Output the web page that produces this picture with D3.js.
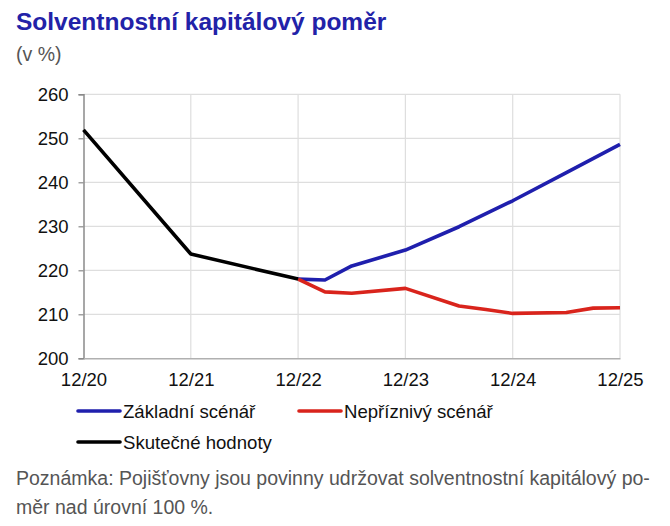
<!DOCTYPE html>
<html><head><meta charset="utf-8">
<script src="https://cdn.jsdelivr.net/npm/d3@7"></script>
<style>body{margin:0;background:#fff;} svg{display:block;font-family:"Liberation Sans",Arial,sans-serif;}</style>
</head><body>
<svg id="c" width="670" height="526"></svg>
<script>
// quarter index: 0 = 12/20, 4 = 12/21, ...
const xTickLabels = ["12/20","12/21","12/22","12/23","12/24","12/25"];
const yTicks = [200,210,220,230,240,250,260];
const actualQ = [0,4,8];
const actualV = [251.9,223.7,218.0];
const baseQ = [8,9,10,12,14,16,18,20];
const baseV = [218.0,217.8,221.0,224.6,229.9,235.8,242.2,248.6];
const advQ = [8,9,10,12,14,15,16,18,19,20];
const advV = [218.0,215.1,214.8,215.9,211.9,211.1,210.2,210.4,211.4,211.5];
const legendLabels = ["Základní scénář","Nepříznivý scénář","Skutečné hodnoty"];
const colors = ["#1f1fad","#d9241c","#000000"];

const svg = d3.select("#c");
const x = d3.scaleLinear().domain([0,20]).range([83.5,620]);
const y = d3.scaleLinear().domain([200,260]).range([358.3,94.3]);

svg.append("text").attr("x",16).attr("y",29.5).attr("fill","#2222a8")
  .attr("font-size",24.5).attr("font-weight","bold").text("Solventnostní kapitálový poměr");
svg.append("text").attr("x",16).attr("y",61).attr("fill","#555")
  .attr("font-size",19.5).text("(v %)");

// grid
const g = svg.append("g");
g.selectAll("line.h").data(yTicks.slice(1)).join("line")
  .attr("x1",x(0)).attr("x2",x(20)).attr("y1",d=>y(d)).attr("y2",d=>y(d))
  .attr("stroke","#dedede").attr("stroke-width",1.2);
g.selectAll("line.v").data(xTickLabels.slice(1)).join("line")
  .attr("x1",(d,i)=>x((i+1)*4)).attr("x2",(d,i)=>x((i+1)*4)).attr("y1",y(260)).attr("y2",y(200))
  .attr("stroke","#dedede").attr("stroke-width",1.2);

// y axis
const yAxis = d3.axisLeft(y).tickValues(yTicks).tickSize(5).tickPadding(10);
const ya = svg.append("g").attr("transform",`translate(${x(0)},0)`).call(yAxis);
ya.select(".domain").attr("stroke","#8a8a8a").attr("stroke-width",1.5);
ya.selectAll(".tick line").attr("stroke","#8a8a8a").attr("stroke-width",1.2);
ya.selectAll(".tick text").attr("font-size",18.5).attr("fill","#111").attr("font-family","Liberation Sans, Arial, sans-serif");

// x axis
const xAxis = d3.axisBottom(x).tickValues([0,4,8,12,16,20]).tickFormat((d,i)=>xTickLabels[i]).tickSize(0).tickPadding(15);
const xa = svg.append("g").attr("transform",`translate(0,${y(200)})`).call(xAxis);
xa.select(".domain").attr("stroke","#b0b0b0").attr("stroke-width",1.5);
xa.selectAll(".tick text").attr("font-size",18.5).attr("fill","#111").attr("font-family","Liberation Sans, Arial, sans-serif");

const line = d3.line().x(d=>x(d[0])).y(d=>y(d[1]));
const series = [
  d3.zip(baseQ,baseV), d3.zip(advQ,advV), d3.zip(actualQ,actualV)
];
svg.selectAll("path.s").data(series).join("path")
  .attr("fill","none").attr("stroke",(d,i)=>colors[i]).attr("stroke-width",3.6)
  .attr("stroke-linejoin","round").attr("d",line);

// legend
const legPos = [[77,411],[298,411],[77,442]];
const lg = svg.selectAll("g.leg").data(legendLabels).join("g")
  .attr("transform",(d,i)=>`translate(${legPos[i][0]},${legPos[i][1]})`);
lg.append("line").attr("x1",1).attr("x2",43).attr("y1",0).attr("y2",0)
  .attr("stroke",(d,i)=>colors[i]).attr("stroke-width",3.6).attr("stroke-linecap","round");
lg.append("text").attr("x",46).attr("y",6.5).attr("font-size",18.6).attr("fill","#111").text(d=>d);

// note
const note = ["Poznámka: Pojišťovny jsou povinny udržovat solventnostní kapitálový po-","měr nad úrovní 100 %."];
svg.selectAll("text.note").data(note).join("text")
  .attr("x",16).attr("y",(d,i)=>485+i*28.5).attr("font-size",19.5).attr("fill","#555").text(d=>d);
</script>
</body></html>
